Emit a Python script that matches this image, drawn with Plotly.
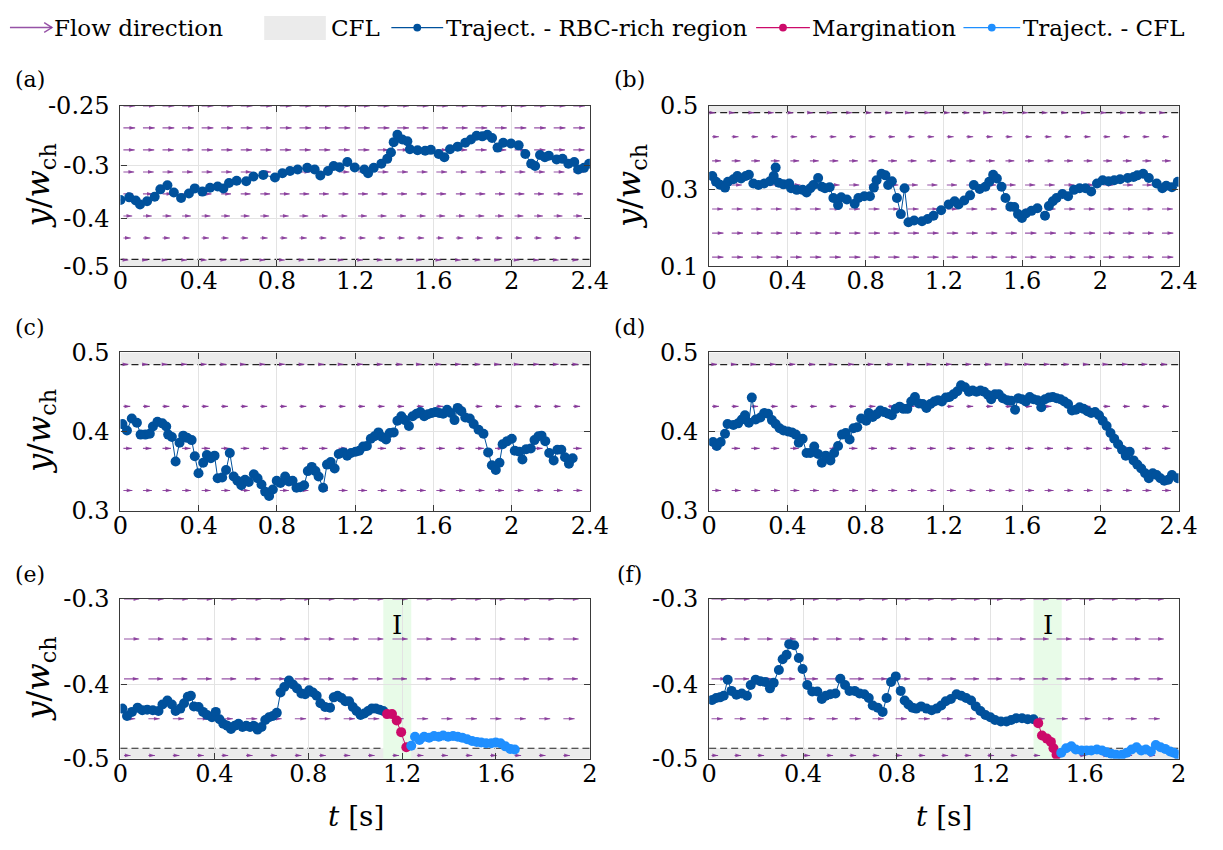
import numpy as np
import plotly.graph_objects as go

# ---------------- DATA ----------------
# Panel (a): trajectory in RBC-rich region
a_t = [0.0, 0.045, 0.078, 0.1, 0.136, 0.175, 0.204, 0.24, 0.273, 0.31, 0.35, 0.38, 0.419, 0.458, 0.497,
       0.526, 0.555, 0.594, 0.643, 0.68, 0.73, 0.79, 0.828, 0.867, 0.906, 0.955, 0.993, 1.022, 1.061, 1.09,
       1.12, 1.16, 1.198, 1.247, 1.266, 1.295, 1.334, 1.364, 1.383, 1.397, 1.416, 1.441, 1.467, 1.48, 1.519,
       1.558, 1.587, 1.627, 1.656, 1.685, 1.724, 1.763, 1.792, 1.821, 1.85, 1.876, 1.9, 1.928, 1.957, 1.997,
       2.036, 2.07, 2.1, 2.12, 2.145, 2.17, 2.19, 2.23, 2.26, 2.29, 2.32, 2.34, 2.37, 2.396]
a_y = [-0.3965, -0.3925, -0.3975, -0.4035, -0.3985, -0.3915, -0.38, -0.3735, -0.385, -0.3935, -0.3865,
       -0.3785, -0.3835, -0.3775, -0.3755, -0.3785, -0.37, -0.3665, -0.3675, -0.36, -0.3575, -0.3615, -0.355,
       -0.3515, -0.349, -0.3465, -0.349, -0.3585, -0.3515, -0.3435, -0.3455, -0.3375, -0.346, -0.349, -0.355,
       -0.3465, -0.34, -0.3325, -0.3225, -0.3065, -0.295, -0.3025, -0.305, -0.3175, -0.319, -0.32, -0.3185,
       -0.325, -0.33, -0.3175, -0.3135, -0.3075, -0.3025, -0.2965, -0.2975, -0.295, -0.3, -0.315, -0.3075,
       -0.3085, -0.3115, -0.325, -0.34, -0.3435, -0.3265, -0.33, -0.3275, -0.3335, -0.3325, -0.34, -0.3375,
       -0.349, -0.3465, -0.34]

# Panel (b)
b_t = [0.016, 0.035, 0.055, 0.081, 0.096, 0.124, 0.144, 0.163, 0.187, 0.203, 0.226, 0.252, 0.281, 0.311,
       0.330, 0.340, 0.356, 0.380, 0.409, 0.419, 0.448, 0.478, 0.498, 0.517, 0.533, 0.557, 0.576, 0.592,
       0.616, 0.635, 0.659, 0.675, 0.704, 0.744, 0.763, 0.793, 0.822, 0.842, 0.856, 0.881, 0.901, 0.915,
       0.934, 0.960, 0.980, 0.999, 1.019, 1.048, 1.088, 1.117, 1.147, 1.186, 1.225, 1.255, 1.275, 1.304,
       1.334, 1.353, 1.383, 1.412, 1.432, 1.452, 1.471, 1.495, 1.515, 1.540, 1.560, 1.579, 1.599, 1.619,
       1.648, 1.678, 1.717, 1.737, 1.757, 1.776, 1.806, 1.835, 1.865, 1.894, 1.924, 1.953, 1.983, 2.012,
       2.042, 2.071, 2.101, 2.140, 2.170, 2.189, 2.219, 2.248, 2.288, 2.317, 2.337, 2.366, 2.396]
b_y = [0.3253, 0.3108, 0.3036, 0.2963, 0.3108, 0.3172, 0.3253, 0.3189, 0.3253, 0.3285, 0.3068, 0.3028,
       0.3068, 0.3124, 0.3253, 0.3462, 0.3084, 0.3044, 0.3068, 0.2947, 0.2907, 0.2907, 0.2842, 0.2947,
       0.3028, 0.3205, 0.2987, 0.2947, 0.2971, 0.2706, 0.2528, 0.2722, 0.2665, 0.2561, 0.2706, 0.2746,
       0.2746, 0.2963, 0.3148, 0.3309, 0.3269, 0.3028, 0.3124, 0.2706, 0.2303, 0.2947, 0.2102, 0.2142,
       0.2126, 0.2182, 0.2263, 0.2400, 0.2545, 0.2625, 0.2545, 0.2641, 0.2770, 0.3028, 0.2931, 0.2987,
       0.3108, 0.3285, 0.3189, 0.2987, 0.2706, 0.2488, 0.2480, 0.2303, 0.2206, 0.2319, 0.2384, 0.2448,
       0.2263, 0.2504, 0.2625, 0.2706, 0.2802, 0.2746, 0.2907, 0.2947, 0.2947, 0.2867, 0.3068, 0.3148,
       0.3124, 0.3148, 0.3172, 0.3205, 0.3229, 0.3269, 0.3309, 0.3205, 0.3068, 0.2947, 0.3011, 0.2971, 0.3108]

# Panel (c)
c_t = [0.010, 0.033, 0.058, 0.084, 0.103, 0.127, 0.150, 0.166, 0.189, 0.214, 0.234, 0.244, 0.263, 0.282,
       0.302, 0.321, 0.341, 0.364, 0.380, 0.399, 0.423, 0.442, 0.462, 0.481, 0.497, 0.520, 0.540, 0.559,
       0.579, 0.598, 0.618, 0.637, 0.656, 0.682, 0.701, 0.721, 0.740, 0.760, 0.779, 0.799, 0.818, 0.842,
       0.861, 0.880, 0.900, 0.919, 0.939, 0.958, 0.978, 0.997, 1.013, 1.036, 1.056, 1.075, 1.095, 1.116,
       1.140, 1.159, 1.179, 1.202, 1.221, 1.241, 1.260, 1.280, 1.299, 1.319, 1.338, 1.358, 1.377, 1.397,
       1.416, 1.436, 1.455, 1.475, 1.494, 1.514, 1.533, 1.553, 1.572, 1.592, 1.611, 1.630, 1.650, 1.670,
       1.689, 1.708, 1.724, 1.743, 1.763, 1.786, 1.806, 1.831, 1.856, 1.880, 1.899, 1.919, 1.938, 1.954,
       1.977, 2.001, 2.016, 2.040, 2.055, 2.075, 2.098, 2.117, 2.137, 2.153, 2.172, 2.192, 2.215, 2.234,
       2.254, 2.273, 2.293, 2.312]
c_y = [0.4098, 0.4016, 0.4167, 0.4114, 0.3964, 0.3964, 0.3976, 0.4066, 0.4126, 0.4106, 0.4066, 0.3964,
       0.3935, 0.3626, 0.3862, 0.3951, 0.3923, 0.3895, 0.3691, 0.3476, 0.3610, 0.3707, 0.3667, 0.3699,
       0.3415, 0.3423, 0.3517, 0.3732, 0.3435, 0.3382, 0.3326, 0.3395, 0.3366, 0.3464, 0.3415, 0.3334,
       0.3244, 0.3191, 0.3273, 0.3382, 0.3354, 0.3435, 0.3374, 0.3382, 0.3293, 0.3301, 0.3326, 0.3504,
       0.3557, 0.3504, 0.3435, 0.3293, 0.3586, 0.3618, 0.3537, 0.3720, 0.3740, 0.3699, 0.3732, 0.3748,
       0.3760, 0.3813, 0.3821, 0.3911, 0.3943, 0.3992, 0.3935, 0.3903, 0.3984, 0.3992, 0.4138, 0.4195,
       0.4147, 0.4073, 0.4195, 0.4228, 0.4248, 0.4195, 0.4220, 0.4236, 0.4248, 0.4236, 0.4228, 0.4277,
       0.4236, 0.4147, 0.4301, 0.4260, 0.4179, 0.4167, 0.4098, 0.4025, 0.3976, 0.3740, 0.3577, 0.3517,
       0.3610, 0.3842, 0.3882, 0.3911, 0.3760, 0.3748, 0.3651, 0.3781, 0.3789, 0.3895, 0.3943, 0.3951,
       0.3882, 0.3732, 0.3639, 0.3773, 0.3773, 0.3679, 0.3598, 0.3667]

# Panel (d)
d_t = [0.020, 0.039, 0.059, 0.081, 0.094, 0.124, 0.148, 0.167, 0.183, 0.203, 0.218, 0.238, 0.262, 0.281,
       0.301, 0.321, 0.340, 0.360, 0.380, 0.403, 0.423, 0.443, 0.458, 0.478, 0.498, 0.517, 0.537, 0.557,
       0.576, 0.596, 0.620, 0.639, 0.659, 0.679, 0.698, 0.718, 0.738, 0.757, 0.777, 0.803, 0.816, 0.836,
       0.856, 0.875, 0.895, 0.915, 0.934, 0.954, 0.974, 0.993, 1.013, 1.033, 1.052, 1.072, 1.092, 1.111,
       1.131, 1.151, 1.170, 1.190, 1.210, 1.229, 1.249, 1.269, 1.288, 1.308, 1.328, 1.347, 1.367, 1.387,
       1.406, 1.426, 1.442, 1.461, 1.481, 1.501, 1.524, 1.544, 1.564, 1.580, 1.599, 1.619, 1.639, 1.658,
       1.678, 1.698, 1.717, 1.737, 1.757, 1.776, 1.796, 1.816, 1.835, 1.855, 1.875, 1.894, 1.914, 1.934,
       1.953, 1.973, 1.993, 2.012, 2.032, 2.052, 2.071, 2.091, 2.111, 2.130, 2.150, 2.170, 2.189, 2.209,
       2.229, 2.248, 2.268, 2.288, 2.307, 2.327, 2.347, 2.366, 2.396]
d_y = [0.3870, 0.3821, 0.3870, 0.3976, 0.4098, 0.4086, 0.4106, 0.4155, 0.4208, 0.4114, 0.4431, 0.4155,
       0.4179, 0.4236, 0.4228, 0.4147, 0.4098, 0.4045, 0.4017, 0.4004, 0.3992, 0.3964, 0.3862, 0.3911,
       0.3732, 0.3732, 0.3813, 0.3720, 0.3610, 0.3699, 0.3639, 0.3732, 0.3821, 0.3964, 0.3984, 0.3903,
       0.4045, 0.4057, 0.4167, 0.4139, 0.4236, 0.4187, 0.4220, 0.4269, 0.4248, 0.4228, 0.4208, 0.4289,
       0.4317, 0.4289, 0.4289, 0.4382, 0.4439, 0.4358, 0.4350, 0.4301, 0.4350, 0.4382, 0.4399, 0.4382,
       0.4431, 0.4439, 0.4472, 0.4512, 0.4586, 0.4561, 0.4504, 0.4521, 0.4504, 0.4521, 0.4504, 0.4464,
       0.4411, 0.4472, 0.4472, 0.4423, 0.4399, 0.4390, 0.4277, 0.4423, 0.4411, 0.4382, 0.4439, 0.4411,
       0.4399, 0.4309, 0.4411, 0.4431, 0.4439, 0.4423, 0.4411, 0.4382, 0.4350, 0.4269, 0.4277, 0.4309,
       0.4289, 0.4260, 0.4236, 0.4248, 0.4208, 0.4139, 0.4073, 0.3984, 0.3911, 0.3842, 0.3773, 0.3699,
       0.3748, 0.3639, 0.3586, 0.3537, 0.3476, 0.3415, 0.3476, 0.3456, 0.3415, 0.3382, 0.3395, 0.3456, 0.3415]

# Panel (e): RBC-rich region, margination, CFL
e_t_rbc = [0.008, 0.028, 0.049, 0.073, 0.093, 0.114, 0.138, 0.162, 0.179, 0.200, 0.219, 0.235, 0.255,
           0.271, 0.287, 0.300, 0.313, 0.333, 0.352, 0.369, 0.390, 0.406, 0.422, 0.438, 0.455, 0.471,
           0.487, 0.503, 0.520, 0.536, 0.552, 0.568, 0.584, 0.601, 0.617, 0.633, 0.649, 0.666, 0.682,
           0.698, 0.718, 0.735, 0.752, 0.771, 0.787, 0.804, 0.820, 0.836, 0.852, 0.872, 0.893, 0.909,
           0.925, 0.942, 0.958, 0.974, 0.990, 1.006, 1.023, 1.039, 1.055, 1.071, 1.088, 1.104, 1.120]
e_y_rbc = [-0.4373, -0.4466, -0.4414, -0.4361, -0.4394, -0.4386, -0.4394, -0.4402, -0.4321, -0.4272,
           -0.4321, -0.4402, -0.4373, -0.4305, -0.4224, -0.4212, -0.4345, -0.4353, -0.4414, -0.4454,
           -0.4482, -0.4414, -0.4507, -0.4563, -0.4588, -0.4628, -0.4588, -0.4563, -0.4604, -0.4588,
           -0.4604, -0.4588, -0.4636, -0.4604, -0.4515, -0.4482, -0.4466, -0.4426, -0.4171, -0.4103,
           -0.4022, -0.4070, -0.4119, -0.4184, -0.4192, -0.4143, -0.4171, -0.4212, -0.4305, -0.4353,
           -0.4361, -0.4232, -0.4212, -0.4240, -0.4280, -0.4280, -0.4353, -0.4402, -0.4454, -0.4434,
           -0.4402, -0.4373, -0.4373, -0.4386, -0.4402]
e_t_marg = [1.136, 1.157, 1.177, 1.196, 1.218]
e_y_marg = [-0.4442, -0.4442, -0.4523, -0.4668, -0.4858]
e_t_cfl = [1.239, 1.255, 1.274, 1.294, 1.315, 1.336, 1.356, 1.375, 1.396, 1.417, 1.437, 1.456, 1.477,
           1.498, 1.518, 1.537, 1.558, 1.580, 1.599, 1.619, 1.640, 1.661, 1.680]
e_y_cfl = [-0.4838, -0.4725, -0.4765, -0.4725, -0.4737, -0.4717, -0.4725, -0.4709, -0.4725, -0.4717,
           -0.4725, -0.4737, -0.4757, -0.4778, -0.4790, -0.4798, -0.4806, -0.4806, -0.4798, -0.4806,
           -0.4846, -0.4878, -0.4886]

# Panel (f)
f_t_rbc = [0.013, 0.030, 0.046, 0.062, 0.079, 0.095, 0.116, 0.139, 0.161, 0.177, 0.198, 0.218, 0.238,
           0.259, 0.275, 0.297, 0.313, 0.330, 0.341, 0.362, 0.382, 0.398, 0.418, 0.439, 0.461, 0.480,
           0.497, 0.516, 0.538, 0.559, 0.579, 0.598, 0.620, 0.641, 0.661, 0.680, 0.697, 0.718, 0.739,
           0.756, 0.775, 0.795, 0.816, 0.833, 0.849, 0.866, 0.882, 0.903, 0.926, 0.948, 0.969, 0.989,
           1.008, 1.030, 1.054, 1.074, 1.095, 1.116, 1.136, 1.156, 1.177, 1.198, 1.218, 1.243, 1.267,
           1.287, 1.308, 1.333, 1.357, 1.382]
f_y_rbc = [-0.4264, -0.4240, -0.4232, -0.4212, -0.4010, -0.4151, -0.4200, -0.4184, -0.4212, -0.4078,
           -0.4010, -0.4030, -0.4038, -0.4119, -0.4050, -0.3889, -0.3755, -0.3699, -0.3565, -0.3578,
           -0.3739, -0.3876, -0.4078, -0.4159, -0.4159, -0.4252, -0.4212, -0.4192, -0.4184, -0.3998,
           -0.4078, -0.4151, -0.4151, -0.4184, -0.4192, -0.4240, -0.4333, -0.4361, -0.4414, -0.4240,
           -0.4038, -0.3969, -0.4151, -0.4272, -0.4321, -0.4361, -0.4373, -0.4345, -0.4373, -0.4394,
           -0.4373, -0.4333, -0.4280, -0.4252, -0.4192, -0.4212, -0.4240, -0.4272, -0.4345, -0.4402,
           -0.4454, -0.4482, -0.4515, -0.4535, -0.4535, -0.4515, -0.4494, -0.4494, -0.4507, -0.4507]
f_t_marg = [1.402, 1.418, 1.439, 1.456, 1.467, 1.480]
f_y_marg = [-0.4555, -0.4709, -0.4749, -0.4790, -0.4870, -0.4951]
f_t_cfl = [1.500, 1.521, 1.543, 1.562, 1.587, 1.608, 1.628, 1.652, 1.674, 1.693, 1.713, 1.734, 1.759,
           1.779, 1.800, 1.821, 1.841, 1.861, 1.882, 1.903, 1.923, 1.943, 1.964, 1.980, 1.997]
f_y_cfl = [-0.4927, -0.4870, -0.4846, -0.4886, -0.4899, -0.4899, -0.4899, -0.4886, -0.4899, -0.4919,
           -0.4939, -0.4951, -0.4951, -0.4927, -0.4886, -0.4858, -0.4899, -0.4886, -0.4911, -0.4830,
           -0.4858, -0.4878, -0.4911, -0.4927, -0.4951]

# Tick labels
x_ticks_long = [0, 0.4, 0.8, 1.2, 1.6, 2.0, 2.4]
x_labels_long = ['0', '0.4', '0.8', '1.2', '1.6', '2', '2.4']
x_ticks_short = [0, 0.4, 0.8, 1.2, 1.6, 2.0]
x_labels_short = ['0', '0.4', '0.8', '1.2', '1.6', '2']
a_ytick_pos = [-0.5, -0.425, -0.3425, -0.25]
a_ytick_txt = ['-0.5', '-0.4', '-0.3', '-0.25']
b_ytick_pos = [0.1, 0.2923, 0.5]
b_ytick_txt = ['0.1', '0.3', '0.5']
cd_ytick_pos = [0.3, 0.4, 0.5]
cd_ytick_txt = ['0.3', '0.4', '0.5']
ef_ytick_pos = [-0.5, -0.407, -0.3]
ef_ytick_txt = ['-0.5', '-0.4', '-0.3']

# Flow-direction field (rows and arrow lengths per row, seconds)
a_qrows = [-0.25, -0.2843, -0.3186, -0.3529, -0.3871, -0.4214, -0.4557, -0.49]
a_qlen = [0.06, 0.06, 0.0575, 0.055, 0.05, 0.045, 0.0375, 0.025]
b_qrows = [0.483, 0.423, 0.363, 0.303, 0.243, 0.183, 0.123]
b_qlen = [0.015, 0.035, 0.045, 0.052, 0.056, 0.058, 0.058]
cd_qrows = [0.485, 0.432, 0.379, 0.326]
cd_qlen = [0.025, 0.035, 0.043, 0.046]
ef_qrows = [-0.3, -0.35, -0.4, -0.45, -0.496]
ef_qlen = [0.065, 0.065, 0.062, 0.048, 0.028]
q_cols_24 = list(np.round(0.015 + 0.1 * np.arange(24), 3))
q_cols_e = list(np.round(0.015 + 0.104 * np.arange(19), 3))
q_cols_f = list(np.round(0.01 + 0.098 * np.arange(20), 3))

# CFL extents (wall value, CFL boundary)
a_cfl = (-0.5, -0.489)
b_cfl = (0.5, 0.483)
cd_cfl = (0.5, 0.4846)
ef_cfl = (-0.5, -0.487)
# Margination interval I
e_interval = (1.12, 1.239)
f_interval = (1.382, 1.502)

# ---------------- STYLE ----------------
W, H = 1223, 850
FONT = "DejaVu Serif"
C_RBC = '#00519c'
C_MARG = '#cc0a6a'
C_CFL = '#1f8fff'
C_ARROW = 'rgba(132,52,150,0.85)'
C_BAND = '#ebebeb'
C_GREEN = '#e8fbe8'
C_AXIS = '#3a3a3a'
C_GRID = '#e3e3e3'

panels = [
    dict(x=(115, 595), y=(95, 261), xr=[0, 2.4], yr=[-0.5, -0.25], xt=(x_ticks_long, x_labels_long),
         yt=(a_ytick_pos, a_ytick_txt), q=(a_qrows, a_qlen, q_cols_24), cfl=a_cfl,
         series=[(a_t, a_y, C_RBC)]),
    dict(x=(717, 1197), y=(95, 261), xr=[0, 2.4], yr=[0.1, 0.5], xt=(x_ticks_long, x_labels_long),
         yt=(b_ytick_pos, b_ytick_txt), q=(b_qrows, b_qlen, q_cols_24), cfl=b_cfl,
         series=[(b_t, b_y, C_RBC)]),
    dict(x=(115, 595), y=(350, 514), xr=[0, 2.4], yr=[0.3, 0.5], xt=(x_ticks_long, x_labels_long),
         yt=(cd_ytick_pos, cd_ytick_txt), q=(cd_qrows, cd_qlen, q_cols_24), cfl=cd_cfl,
         series=[(c_t, c_y, C_RBC)]),
    dict(x=(717, 1197), y=(350, 514), xr=[0, 2.4], yr=[0.3, 0.5], xt=(x_ticks_long, x_labels_long),
         yt=(cd_ytick_pos, cd_ytick_txt), q=(cd_qrows, cd_qlen, q_cols_24), cfl=cd_cfl,
         series=[(d_t, d_y, C_RBC)]),
    dict(x=(115, 595), y=(605, 770), xr=[0, 2.0], yr=[-0.5, -0.3], xt=(x_ticks_short, x_labels_short),
         yt=(ef_ytick_pos, ef_ytick_txt), q=(ef_qrows, ef_qlen, q_cols_e), cfl=ef_cfl,
         series=[(e_t_rbc, e_y_rbc, C_RBC), (e_t_marg, e_y_marg, C_MARG), (e_t_cfl, e_y_cfl, C_CFL)],
         interval=e_interval),
    dict(x=(717, 1197), y=(605, 770), xr=[0, 2.0], yr=[-0.5, -0.3], xt=(x_ticks_short, x_labels_short),
         yt=(ef_ytick_pos, ef_ytick_txt), q=(ef_qrows, ef_qlen, q_cols_f), cfl=ef_cfl,
         series=[(f_t_rbc, f_y_rbc, C_RBC), (f_t_marg, f_y_marg, C_MARG), (f_t_cfl, f_y_cfl, C_CFL)],
         interval=f_interval),
]

fig = go.Figure()
shapes = []
annotations = []
tickfont = dict(family=FONT, size=24, color='black')

for i, P in enumerate(panels, start=1):
    sfx = '' if i == 1 else str(i)
    xr_, yr_ = 'x' + sfx, 'y' + sfx
    fig.update_layout(**{
        'xaxis' + sfx: dict(domain=[P['x'][0] / W, P['x'][1] / W], range=P['xr'], anchor=yr_,
                            tickvals=P['xt'][0], ticktext=P['xt'][1], showline=True, mirror='ticks',
                            linecolor=C_AXIS, linewidth=1.2, ticks='inside', ticklen=6, tickcolor=C_AXIS,
                            showgrid=True, gridcolor=C_GRID, gridwidth=1, zeroline=False, tickfont=tickfont,
                            ticklabelstandoff=-7),
        'yaxis' + sfx: dict(domain=[1 - P['y'][1] / H, 1 - P['y'][0] / H], range=P['yr'], anchor=xr_,
                            tickvals=P['yt'][0], ticktext=P['yt'][1], showline=True, mirror='ticks',
                            linecolor=C_AXIS, linewidth=1.2, ticks='inside', ticklen=6, tickcolor=C_AXIS,
                            showgrid=True, gridcolor=C_GRID, gridwidth=1, zeroline=False, tickfont=tickfont,
                            ticklabelstandoff=5),
    })
    # CFL band + boundary
    wall, edge = P['cfl']
    shapes.append(dict(type='rect', xref=xr_ + ' domain', yref=yr_, x0=0, x1=1, y0=wall, y1=edge,
                       fillcolor=C_BAND, line=dict(width=0), layer='below'))
    shapes.append(dict(type='line', xref=xr_ + ' domain', yref=yr_, x0=0, x1=1, y0=edge, y1=edge,
                       line=dict(color='#222222', width=1.2, dash='7px,4px'), layer='below'))
    if 'interval' in P:
        t0, t1 = P['interval']
        shapes.append(dict(type='rect', xref=xr_, yref=yr_ + ' domain', x0=t0, x1=t1, y0=0, y1=1,
                           fillcolor=C_GREEN, line=dict(width=0), layer='below'))
        annotations.append(dict(x=(t0 + t1) / 2, y=-0.333, xref=xr_, yref=yr_, text='I', showarrow=False,
                                font=dict(family=FONT, size=26, color='black')))
    # Flow-direction arrows
    rows, lens, cols = P['q']
    sx, sy, hx, hy = [], [], [], []
    for r, L in zip(rows, lens):
        for c in cols:
            sx += [c, c + L, None]
            sy += [r, r, None]
            hx.append(c + L)
            hy.append(r)
    fig.add_trace(go.Scatter(x=sx, y=sy, mode='lines', line=dict(color=C_ARROW, width=1.1),
                             xaxis=xr_, yaxis=yr_, showlegend=False, hoverinfo='skip'))
    fig.add_trace(go.Scatter(x=hx, y=hy, mode='markers',
                             marker=dict(symbol='arrow', angle=90, size=6, color=C_ARROW, line=dict(width=0)),
                             xaxis=xr_, yaxis=yr_, showlegend=False, hoverinfo='skip'))
    # Trajectories
    for t, y, col in P['series']:
        fig.add_trace(go.Scatter(x=t, y=y, mode='lines+markers', line=dict(color=col, width=1),
                                 marker=dict(color=col, size=10, line=dict(width=0)),
                                 xaxis=xr_, yaxis=yr_, showlegend=False))


def px(x):
    return x / W


def py(y):
    return 1 - y / H


# Panel letters
for lab, (lx, ly) in zip(['(a)', '(b)', '(c)', '(d)', '(e)', '(f)'],
                         [(22, 68), (636, 68), (22, 324), (636, 324), (22, 580), (636, 580)]):
    annotations.append(dict(x=px(lx), y=py(ly), xref='paper', yref='paper', text=lab, showarrow=False,
                            xanchor='center', yanchor='middle', font=dict(family=FONT, size=22, color='black')))
# y titles
for (lx, ly) in [(33, 178), (637, 178), (33, 432), (33, 688)]:
    annotations.append(dict(x=px(lx), y=py(ly), xref='paper', yref='paper',
                            text='<i>y</i>/<i>w</i><sub>ch</sub>', textangle=-90, showarrow=False,
                            xanchor='center', yanchor='middle', font=dict(family=FONT, size=32, color='black')))
# x titles
for lx in [356, 957]:
    annotations.append(dict(x=px(lx), y=py(830), xref='paper', yref='paper', text='<i>t</i> [s]',
                            showarrow=False, xanchor='center', yanchor='middle',
                            font=dict(family=FONT, size=28, color='black')))

# Legend (drawn manually)
LY = 14
lfont = dict(family=FONT, size=23, color='black')
for txt, lx in [('Flow direction', 45), ('CFL', 328), ('Traject. - RBC-rich region', 446),
                ('Margination', 820), ('Traject. - CFL', 1036)]:
    annotations.append(dict(x=px(lx), y=py(LY), xref='paper', yref='paper', text=txt, showarrow=False,
                            xanchor='left', yanchor='middle', font=lfont))
# legend arrow: shaft + open head
shapes.append(dict(type='line', xref='paper', yref='paper', x0=px(2), x1=px(45), y0=py(LY), y1=py(LY),
                   line=dict(color=C_ARROW, width=1.4)))
shapes.append(dict(type='path', xref='paper', yref='paper',
                   path=f'M {px(37)} {py(LY - 5)} L {px(45)} {py(LY)} L {px(37)} {py(LY + 5)}',
                   line=dict(color=C_ARROW, width=1.4)))
shapes.append(dict(type='rect', xref='paper', yref='paper', x0=px(262), x1=px(325), y0=py(27), y1=py(2),
                   fillcolor=C_BAND, line=dict(width=0)))
for (x0, x1, col) in [(392, 445, C_RBC), (765, 820, C_MARG), (977, 1035, C_CFL)]:
    shapes.append(dict(type='line', xref='paper', yref='paper', x0=px(x0), x1=px(x1), y0=py(LY), y1=py(LY),
                       line=dict(color=col, width=1.3)))
    cx = (x0 + x1) / 2
    shapes.append(dict(type='circle', xref='paper', yref='paper', x0=px(cx - 4), x1=px(cx + 4),
                       y0=py(LY + 4), y1=py(LY - 4), fillcolor=col, line=dict(width=0)))

fig.update_layout(width=W, height=H, margin=dict(l=0, r=0, t=0, b=0), plot_bgcolor='white',
                  paper_bgcolor='white', showlegend=False, shapes=shapes, annotations=annotations,
                  font=dict(family=FONT))

fig.write_html('out.html')
